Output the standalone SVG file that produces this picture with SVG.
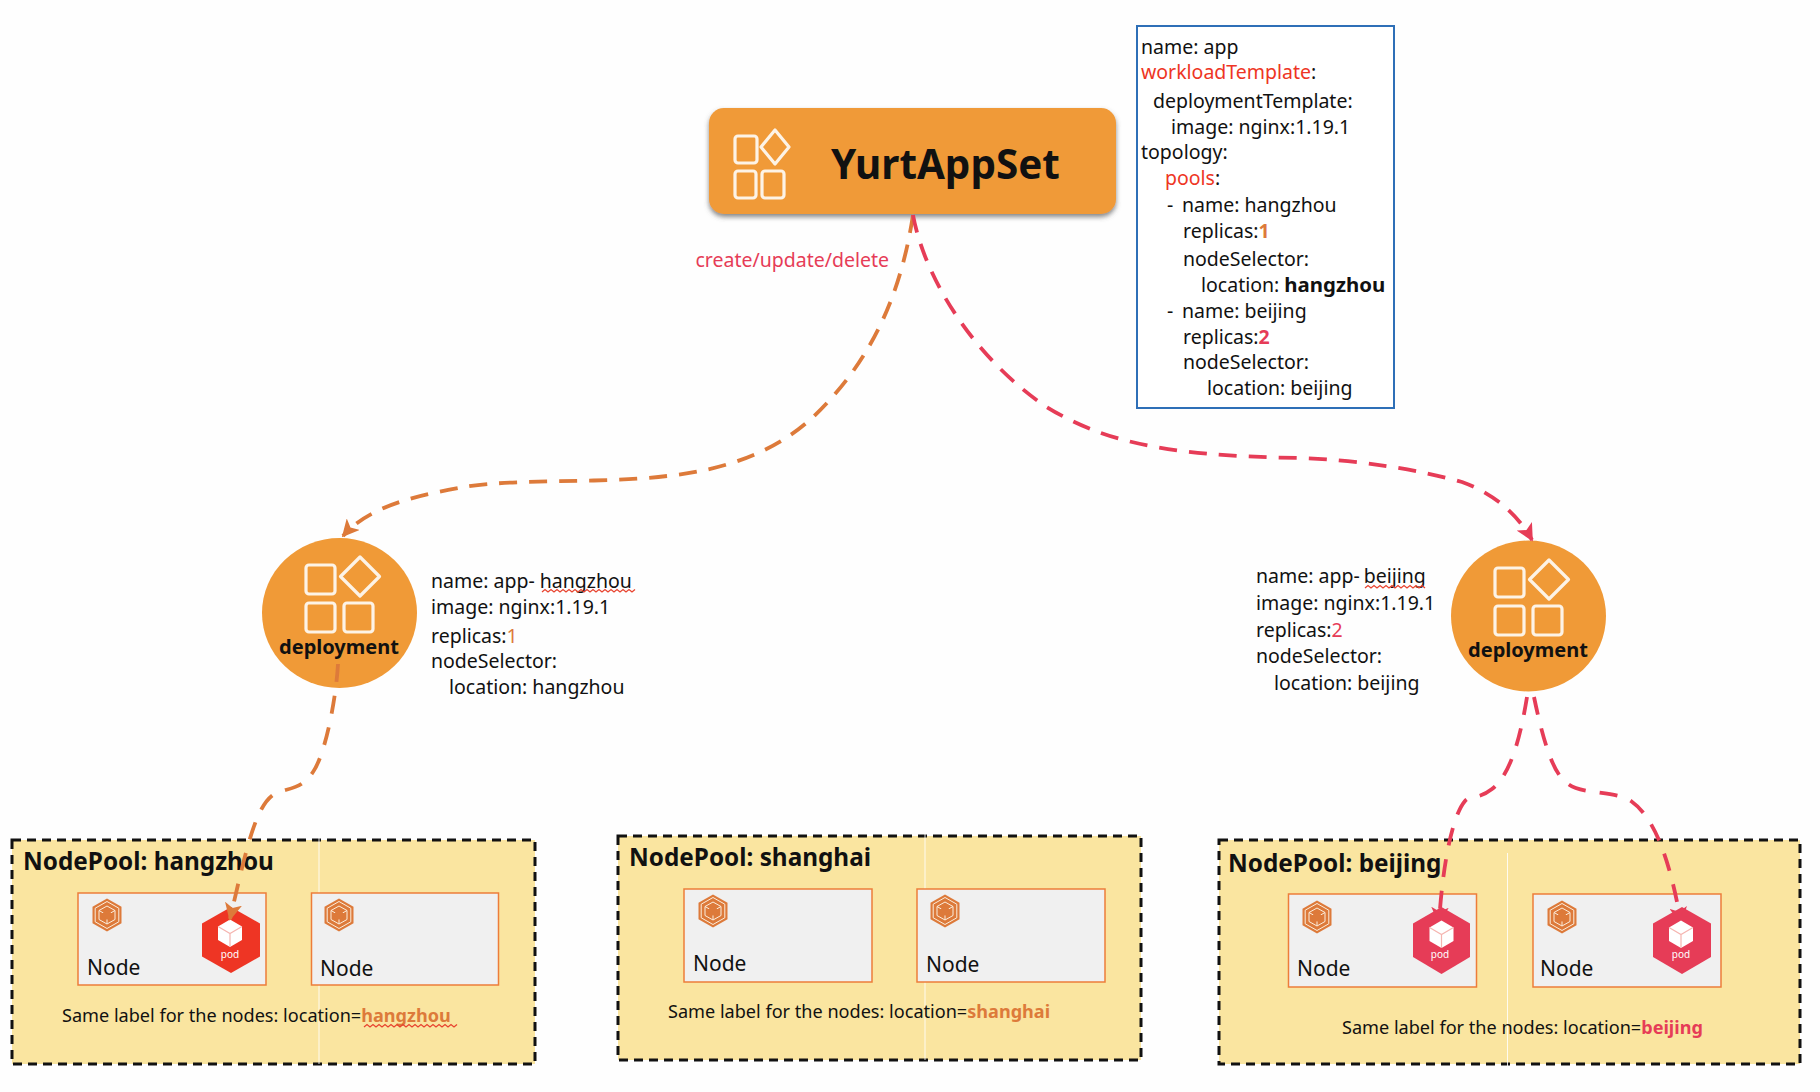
<svg xmlns="http://www.w3.org/2000/svg" xmlns:xlink="http://www.w3.org/1999/xlink" width="1820" height="1092" viewBox="0 0 1820 1092">
<style>
text{font-family:"Noto Sans","Liberation Sans",sans-serif;fill:#111}
.y{font-size:19.5px}
.b{font-weight:700}
.bb{font-size:20.4px;font-weight:700}
.red{fill:#ee3524}.or{fill:#dd7a3a}.pk{fill:#e63c57}
.pool{fill:#fae5a0;stroke:#111;stroke-width:3;stroke-dasharray:9 6}
.node{fill:#f0f0f0;stroke:#ed7d3a;stroke-width:1.5}
.nt{font-size:21px}
.pt{font-size:24.300px;font-weight:700}
.sl{font-size:18.100px}
.sep{stroke:#fff;stroke-width:1;opacity:.85}
.ic{fill:none;stroke:#fdf3e6;stroke-width:3.2;stroke-linejoin:round}
.con{fill:none;stroke-width:3.800}
.sq{fill:none;stroke:#e8432f;stroke-width:1.3}
.pod{font-size:10px;fill:#fff;text-anchor:middle}
</style>
<defs>
<filter id="sh" x="-5%" y="-10%" width="110%" height="125%"><feDropShadow dx="0" dy="3" stdDeviation="2.5" flood-color="#555" flood-opacity=".7"/></filter>
<marker id="ao" viewBox="0 0 10 10" refX="9" refY="5" markerWidth="4.600" markerHeight="4.600" orient="auto"><path d="M0,0L10,5L0,10L2.500,5z" fill="#dd7a3a"/></marker>
<marker id="ap" viewBox="0 0 10 10" refX="9" refY="5" markerWidth="4.600" markerHeight="4.600" orient="auto"><path d="M0,0L10,5L0,10L2.500,5z" fill="#e63c57"/></marker>
<symbol id="hx" overflow="visible" viewBox="-16 -17 32 34" width="32" height="34">
<path d="M0,-16.500L14.500,-8.200V8.200L0,16.500L-14.500,8.200V-8.200z" fill="#dd7a3a"/>
<path d="M0,-13.500L11.800,-6.800V6.800L0,13.500L-11.800,6.800V-6.800z" fill="none" stroke="#fbeedd" stroke-width="1"/>
<path d="M0,-9L8,-4.500V4.500L0,9L-8,4.500V-4.500zM-8,-4.500L0,0L8,-4.500M0,0V9" fill="none" stroke="#fbeedd" stroke-width="1"/>
<circle r="4.500" fill="#dd7a3a"/>
</symbol>
<symbol id="cube" overflow="visible" viewBox="-13 -14 26 28" width="26" height="28">
<path d="M0,-13.500L12,-6.500V7L0,14L-12,7V-6.500z" fill="#fff"/>
<path d="M-12,-6.500L0,0.500L12,-6.500M0,0.500V14" fill="none" stroke="#f5b5b0" stroke-width="1.200"/>
</symbol>
<symbol id="four" overflow="visible" viewBox="0 0 100 100" width="100" height="100">
<rect x="1" y="1" width="29" height="29" rx="3" class="ic"/>
<rect x="1" y="39" width="29" height="29" rx="3" class="ic"/>
<rect x="39" y="39" width="29" height="29" rx="3" class="ic"/>
<path d="M55,-7L74.500,12.500L55,32L35.500,12.500z" class="ic"/>
</symbol>
</defs>
<rect width="1820" height="1092" fill="#fefefe"/>

<g id="spec">
<rect x="1137" y="26" width="257" height="382" fill="#fff" stroke="#2e6fb7" stroke-width="2"/>
<text class="y" x="1141" y="54">name: app</text>
<text class="y" x="1141" y="79"><tspan class="red">workloadTemplate</tspan>:</text>
<text class="y" x="1153" y="108">deploymentTemplate:</text>
<text class="y" x="1171" y="134">image: nginx:1.19.1</text>
<text class="y" x="1141" y="159">topology:</text>
<text class="y" x="1165" y="185"><tspan class="red">pools</tspan>:</text>
<text class="y" x="1167" y="212">-</text><text class="y" x="1182" y="212">name: hangzhou</text>
<text class="y" x="1183" y="238">replicas:<tspan class="or b">1</tspan></text>
<text class="y" x="1183" y="266">nodeSelector:</text>
<text class="y" x="1201" y="292">location: <tspan class="bb">hangzhou</tspan></text>
<text class="y" x="1167" y="318">-</text><text class="y" x="1182" y="318">name: beijing</text>
<text class="y" x="1183" y="344">replicas:<tspan class="pk b">2</tspan></text>
<text class="y" x="1183" y="369">nodeSelector:</text>
<text class="y" x="1207" y="395">location: beijing</text>
</g>

<g id="yurtappset">
<rect x="709" y="108" width="407" height="106" rx="15" fill="#f09a37" filter="url(#sh)"/>
<rect x="735" y="136" width="22" height="27" rx="3" class="ic"/>
<rect x="735" y="171" width="21" height="27" rx="3" class="ic"/>
<rect x="762" y="171" width="22" height="27" rx="3" class="ic"/>
<path d="M775,130L789,147L775,164L761,147z" class="ic"/>
<text x="831" y="179" font-size="40.400" class="b">YurtAppSet</text>
</g>

<text id="edge-label" x="695.500" y="267" font-size="19.500" class="pk">create/update/delete</text>

<g id="deployment-hangzhou">
<ellipse cx="339.500" cy="613" rx="77.500" ry="75" fill="#f09a37"/>
<use href="#four" x="305" y="564"/>
<text x="339" y="654" font-size="20" class="b" text-anchor="middle">deployment</text>
</g>
<g id="deployment-hangzhou-info">
<text class="y" x="431" y="588">name: app-<tspan dx="5">hangzhou</tspan></text>
<text class="y" x="431" y="614">image: nginx:1.19.1</text>
<text class="y" x="431" y="643">replicas:<tspan class="or">1</tspan></text>
<text class="y" x="431" y="668">nodeSelector:</text>
<text class="y" x="449" y="694">location: hangzhou</text>
<path class="sq" d="M542,592l3,-2.500 3,2.500 3,-2.500 3,2.500 3,-2.500 3,2.500 3,-2.500 3,2.500 3,-2.500 3,2.500 3,-2.500 3,2.500 3,-2.500 3,2.500 3,-2.500 3,2.500 3,-2.500 3,2.500 3,-2.500 3,2.500 3,-2.500 3,2.500 3,-2.500 3,2.500 3,-2.500 3,2.500 3,-2.500 3,2.500 3,-2.500 3,2.500 3,-2.500"/>
</g>

<g id="deployment-beijing">
<ellipse cx="1528.500" cy="616" rx="77.500" ry="75.500" fill="#f09a37"/>
<use href="#four" x="1494" y="567"/>
<text x="1528" y="657" font-size="20" class="b" text-anchor="middle">deployment</text>
</g>
<g id="deployment-beijing-info">
<text class="y" x="1256" y="583">name: app-<tspan dx="4">beijing</tspan></text>
<text class="y" x="1256" y="610">image: nginx:1.19.1</text>
<text class="y" x="1256" y="637">replicas:<tspan class="pk">2</tspan></text>
<text class="y" x="1256" y="663">nodeSelector:</text>
<text class="y" x="1274" y="690">location: beijing</text>
<path class="sq" d="M1365,588l3,-2.500 3,2.500 3,-2.500 3,2.500 3,-2.500 3,2.500 3,-2.500 3,2.500 3,-2.500 3,2.500 3,-2.500 3,2.500 3,-2.500 3,2.500 3,-2.500 3,2.500 3,-2.500 3,2.500 3,-2.500 3,2.500"/>
</g>

<g id="pool-hangzhou">
<rect class="pool" x="12" y="840" width="523" height="224"/>
<line class="sep" x1="319" y1="827" x2="319" y2="1064"/>
<text class="pt" x="23" y="870">NodePool: hangzhou</text>
<g id="node-h1"><rect class="node" x="78" y="893" width="188" height="92"/><use href="#hx" x="91" y="898"/><text class="nt" x="87" y="975">Node</text></g>
<g id="node-h2"><rect class="node" x="311.500" y="893" width="187" height="92"/><use href="#hx" x="323" y="898"/><text class="nt" x="320" y="976">Node</text></g>
<g id="pod-h"><path d="M231,907L260,923.500V956.500L231,973L202,956.500V923.500z" fill="#ee3524"/><use href="#cube" x="217" y="919"/><text class="pod" x="230" y="958">pod</text></g>
<text class="sl" x="62" y="1022">Same label for the nodes: location=<tspan class="or b">hangzhou</tspan></text>
<path class="sq" d="M364,1027l3,-2.500 3,2.500 3,-2.500 3,2.500 3,-2.500 3,2.500 3,-2.500 3,2.500 3,-2.500 3,2.500 3,-2.500 3,2.500 3,-2.500 3,2.500 3,-2.500 3,2.500 3,-2.500 3,2.500 3,-2.500 3,2.500 3,-2.500 3,2.500 3,-2.500 3,2.500 3,-2.500 3,2.500 3,-2.500 3,2.500 3,-2.500 3,2.500 3,-2.500"/>
</g>

<g id="pool-shanghai">
<rect class="pool" x="618" y="836" width="523" height="224"/>
<line class="sep" x1="925" y1="823" x2="925" y2="1060"/>
<text class="pt" x="629" y="866">NodePool: shanghai</text>
<g id="node-s1"><rect class="node" x="684" y="889" width="188" height="93"/><use href="#hx" x="697" y="894"/><text class="nt" x="693" y="971">Node</text></g>
<g id="node-s2"><rect class="node" x="917" y="889" width="188" height="93"/><use href="#hx" x="929" y="894"/><text class="nt" x="926" y="972">Node</text></g>
<text class="sl" x="668" y="1018">Same label for the nodes: location=<tspan class="or b">shanghai</tspan></text>
</g>

<g id="pool-beijing">
<rect class="pool" x="1219" y="840" width="581" height="224"/>
<line class="sep" x1="1507.500" y1="853" x2="1507.500" y2="1088"/>
<text class="pt" x="1228" y="872">NodePool: beijing</text>
<g id="node-b1"><rect class="node" x="1288.500" y="894" width="188" height="93"/><use href="#hx" x="1301" y="900"/><text class="nt" x="1297" y="976">Node</text></g>
<g id="node-b2"><rect class="node" x="1533" y="894" width="188" height="93"/><use href="#hx" x="1546" y="900"/><text class="nt" x="1540" y="976">Node</text></g>
<text class="sl" x="1342" y="1034">Same label for the nodes: location=<tspan class="pk b">beijing</tspan></text>
</g>

<g id="connectors">
<path class="con" stroke="#dd7a3a" stroke-dasharray="18 12" marker-end="url(#ao)" d="M913,215C900,300 868,365 812,418C775,452 725,470 667,476C600,484 520,478 464,487C420,495 370,505 343,536"/>
<path class="con" stroke="#e63c57" stroke-dasharray="18 12" marker-end="url(#ap)" d="M913,215C925,280 975,358 1045,406C1100,440 1160,456 1300,458C1360,460 1420,470 1462,482C1495,494 1518,515 1532,540"/>
<path class="con" stroke="#dd7a3a" stroke-dasharray="18 14" marker-end="url(#ao)" d="M338,664C336,700 325,755 313,772C300,792 285,787 273,795C255,808 246,850 230,919"/>
<path class="con" stroke="#e63c57" stroke-dasharray="18 14" marker-end="url(#ap)" d="M1527,697C1520,740 1510,775 1492,789C1478,800 1470,795 1465,801C1453,815 1443,860 1439,923"/>
<path class="con" stroke="#e63c57" stroke-dasharray="18 14" marker-end="url(#ap)" d="M1534,697C1545,750 1555,775 1567,783C1580,795 1615,790 1631,801C1655,818 1670,860 1681,923"/>
</g>

<g id="pod-b1"><path d="M1441.500,907L1470,923.500V957L1441.500,974L1413,957V923.500z" fill="#e63c57"/><use href="#cube" x="1428.500" y="920"/><text class="pod" x="1440" y="958">pod</text></g>
<g id="pod-b2"><path d="M1682,907L1711,923.500V957L1682,974L1653,957V923.500z" fill="#e63c57"/><use href="#cube" x="1668" y="920"/><text class="pod" x="1681" y="958">pod</text></g>
</svg>
